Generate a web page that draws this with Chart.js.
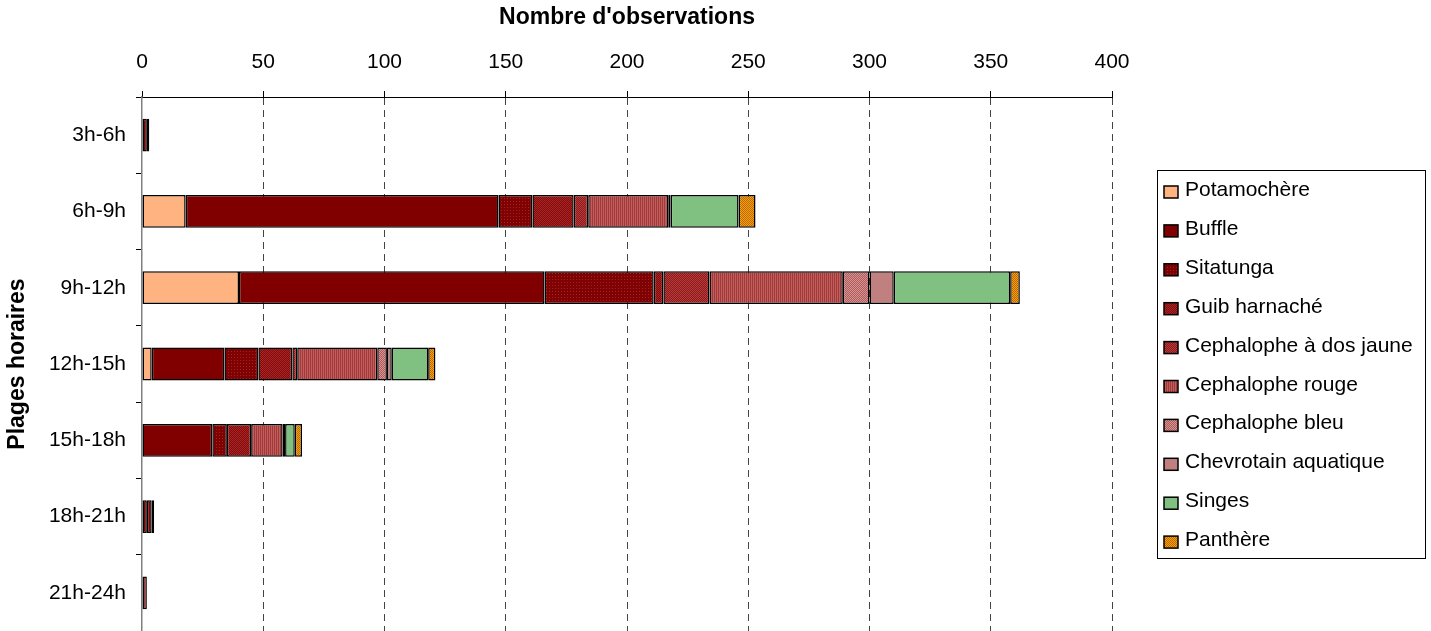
<!DOCTYPE html>
<html>
<head>
<meta charset="utf-8">
<script src="https://cdn.jsdelivr.net/npm/chart.js@4/dist/chart.umd.min.js"></script>
<style>
  html, body { margin: 0; padding: 0; background: #ffffff; }
  #wrap { width: 1431px; height: 631px; }
</style>
</head>
<body>
<div id="wrap"><canvas id="c" width="1431" height="631"></canvas></div>
<script>
// Time slots (y categories) and observation counts per species
const categories = ['3h-6h', '6h-9h', '9h-12h', '12h-15h', '15h-18h', '18h-21h', '21h-24h'];
const potamochere         = [0, 18, 40,  4,  0, 0, 0];
const buffle              = [2, 129, 126, 30, 29, 2, 0];
const sitatunga           = [0, 14, 45, 14,  6, 2, 0];
const guibHarnache        = [0, 17,  4, 14, 10, 0, 0];
const cephalopheDosJaune  = [0,  6, 19,  2,  0, 0, 0];
const cephalopheRouge     = [1, 33, 55, 33, 13, 1, 2];
const cephalopheBleu      = [0,  0, 11,  4,  1, 0, 0];
const chevrotainAquatique = [0,  1, 10,  2,  0, 0, 0];
const singes              = [0, 28, 48, 15,  4, 0, 0];
const panthere            = [0,  7,  4,  3,  3, 0, 0];
const xTickValues = [0, 50, 100, 150, 200, 250, 300, 350, 400];

const FONT = "'Liberation Sans', Arial, sans-serif";

// Small repeating fills
function makePattern(w, h, draw) {
  const c = document.createElement('canvas');
  c.width = w; c.height = h;
  const g = c.getContext('2d');
  draw(g);
  return g.createPattern(c, 'repeat');
}
function checker(a, b) {
  return makePattern(2, 2, g => {
    g.fillStyle = a; g.fillRect(0, 0, 2, 2);
    g.fillStyle = b; g.fillRect(0, 0, 1, 1); g.fillRect(1, 1, 1, 1);
  });
}
const fills = {
  potamochere: '#FFB380',
  buffle: '#800000',
  sitatunga: makePattern(3, 3, g => {
    g.fillStyle = '#7E0202'; g.fillRect(0, 0, 3, 3);
    g.fillStyle = '#A52222'; g.fillRect(0, 0, 1, 1);
  }),
  guib: checker('#860808', '#A42828'),
  dosJaune: checker('#901818', '#B33C3C'),
  rouge: makePattern(2, 1, g => {
    g.fillStyle = '#A23A3A'; g.fillRect(0, 0, 1, 1);
    g.fillStyle = '#C05E5E'; g.fillRect(1, 0, 1, 1);
  }),
  bleu: checker('#B25A5A', '#D49494'),
  chevrotain: '#C08080',
  singes: '#80C080',
  panthere: checker('#F2A010', '#C06800')
};

const series = [
  { label: 'Potamochère', data: potamochere, fill: fills.potamochere },
  { label: 'Buffle', data: buffle, fill: fills.buffle },
  { label: 'Sitatunga', data: sitatunga, fill: fills.sitatunga },
  { label: 'Guib harnaché', data: guibHarnache, fill: fills.guib },
  { label: 'Cephalophe à dos jaune', data: cephalopheDosJaune, fill: fills.dosJaune },
  { label: 'Cephalophe rouge', data: cephalopheRouge, fill: fills.rouge },
  { label: 'Cephalophe bleu', data: cephalopheBleu, fill: fills.bleu },
  { label: 'Chevrotain aquatique', data: chevrotainAquatique, fill: fills.chevrotain },
  { label: 'Singes', data: singes, fill: fills.singes },
  { label: 'Panthère', data: panthere, fill: fills.panthere }
];

// Boxed legend drawn on the right side
const boxedLegend = {
  id: 'boxedLegend',
  afterDraw(chart) {
    const ctx = chart.ctx;
    ctx.save();
    ctx.strokeStyle = '#000';
    ctx.lineWidth = 1;
    ctx.strokeRect(1157.5, 170.5, 268, 388);
    ctx.font = '21px ' + FONT;
    ctx.textBaseline = 'alphabetic';
    ctx.textAlign = 'left';
    chart.data.datasets.forEach((ds, i) => {
      const base = 196 + i * 38.9;
      ctx.fillStyle = ds.backgroundColor;
      ctx.fillRect(1164, base - 10, 14, 12);
      ctx.lineWidth = 1.5;
      ctx.strokeStyle = '#000';
      ctx.strokeRect(1164, base - 10, 14, 12);
      ctx.fillStyle = '#000';
      ctx.fillText(ds.label, 1185, base);
    });
    ctx.restore();
  }
};

new Chart(document.getElementById('c'), {
  type: 'bar',
  data: {
    labels: categories,
    datasets: series.map(s => ({
      label: s.label,
      data: s.data,
      backgroundColor: s.fill,
      borderColor: '#000',
      borderWidth: 1.5,
      borderSkipped: false,
      categoryPercentage: 1,
      barPercentage: 0.43
    }))
  },
  options: {
    indexAxis: 'y',
    responsive: false,
    animation: false,
    devicePixelRatio: 1,
    layout: { padding: { left: 0, top: 0, right: 319, bottom: 0 } },
    plugins: { legend: { display: false }, tooltip: { enabled: false } },
    scales: {
      x: {
        position: 'top',
        stacked: true,
        min: 0,
        max: 400,
        afterBuildTicks(scale) { scale.ticks = xTickValues.map(v => ({ value: v })); },
        afterFit(scale) { scale.height = 97; },
        ticks: { color: '#000', font: { family: FONT, size: 21 }, padding: 16, maxRotation: 0 },
        grid: {
          color: ctx => (ctx.tick && ctx.tick.value === 0) ? 'rgba(0,0,0,0)' : '#444',
          tickColor: '#000',
          lineWidth: 1,
          tickLength: 6,
          drawOnChartArea: true
        },
        border: { display: true, color: '#000', width: 1, dash: [7, 5] },
        title: {
          display: true,
          text: "Nombre d'observations",
          color: '#000',
          font: { family: FONT, size: 23, weight: 'bold' },
          padding: { top: 4, bottom: 0 }
        }
      },
      y: {
        stacked: true,
        afterFit(scale) {
          scale.width = 142;
          scale.paddingTop = 0;
          scale.paddingBottom = 0;
        },
        ticks: { color: '#000', font: { family: FONT, size: 21 }, padding: 10 },
        grid: { offset: true, drawOnChartArea: false, tickLength: 6, color: '#808080', tickColor: '#000' },
        border: { display: true, color: '#808080', width: 1.5 },
        title: {
          display: true,
          text: 'Plages horaires',
          color: '#000',
          font: { family: FONT, size: 23, weight: 'bold' },
          padding: { top: 4, bottom: 0 }
        }
      }
    }
  },
  plugins: [boxedLegend]
});
</script>
</body>
</html>
